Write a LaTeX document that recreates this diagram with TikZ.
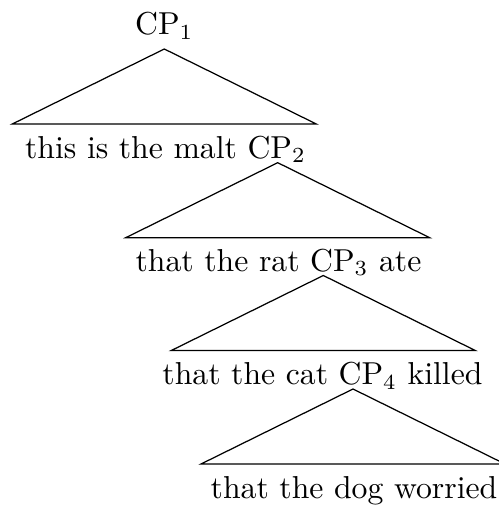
\documentclass[tikz,border=0pt]{standalone}
\usepackage{amsmath}
\usepackage{tikz}

\begin{document}
\begin{tikzpicture}[x=0.3247pt, y=-0.3247pt,
    line/.style={anchor=base, inner sep=0pt, font=\fontsize{10.3}{12}\selectfont},
    roof/.style={draw, line width=0.4pt}]
    \useasboundingbox (0,0) rectangle (498,507);

    % top label and the apex of every roof
    \node[line] (cp1) at (164.3,35) {CP$_1$};
    \coordinate (a1) at (164.3,49);
    \coordinate (a2) at (277.7,162.7);
    \coordinate (a3) at (323.3,275.5);
    \coordinate (a4) at (353.0,389);

    % roofs
    \foreach \r in {a1,a2,a3,a4}
        \draw[roof] (\r) -- ++(-152,75) -- ++(304,0) -- cycle;

    % yields under each roof
    \node[line] (s1) at (165.5,158) {this is the malt CP$_2$};
    \node[line] (s2) at (278.5,271) {that the rat CP$_3$ ate};
    \node[line] (s3) at (322.5,384.5) {that the cat CP$_4$ killed};
    \node[line] (s4) at (354.0,498) {that the dog worried};
\end{tikzpicture}
\end{document}
